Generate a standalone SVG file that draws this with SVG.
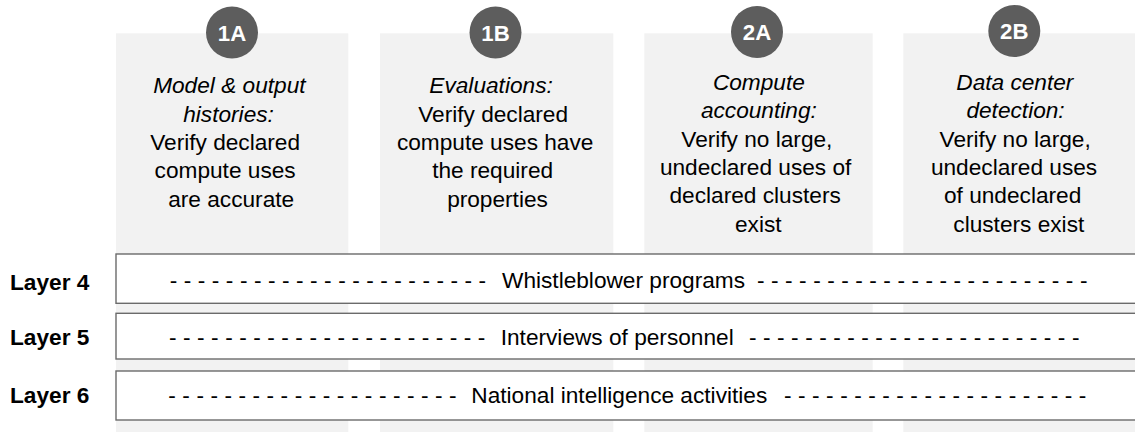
<svg xmlns="http://www.w3.org/2000/svg" width="1135" height="432" viewBox="0 0 1135 432">
  <style>
    .col { fill: #f2f2f2; }
    .badge { fill: #5d5d5d; }
    .badge-t { font-family: "Liberation Sans", Arial, sans-serif; font-weight: bold; font-size: 22.2px; fill: #ffffff; text-anchor: middle; }
    .body { font-family: "Liberation Sans", Arial, sans-serif; font-size: 22.67px; fill: #000000; text-anchor: middle; }
    .it { font-style: italic; }
    .row { fill: #ffffff; stroke: #6b6b6b; stroke-width: 1.4; }
    .lay { font-family: "Liberation Sans", Arial, sans-serif; font-weight: bold; font-size: 22.67px; fill: #000000; }
    .rt { font-family: "Liberation Sans", Arial, sans-serif; font-size: 22.67px; fill: #000000; }
    .dash { letter-spacing: 0.1px; }
  </style>
  <rect x="0" y="0" width="1135" height="432" fill="#ffffff"/>

  <g id="node-1A">
    <rect class="col" x="116" y="33.3" width="232.3" height="400"/>
    <circle class="badge" cx="232" cy="32.5" r="26"/>
    <text class="badge-t" x="232" y="40.6">1A</text>
    <text class="body">
      <tspan class="it" x="232.5" y="93.3">Model &amp; output</tspan>
      <tspan class="it" x="231.7" y="121.7">histories:</tspan>
      <tspan x="228.3" y="150">Verify declared</tspan>
      <tspan x="228.3" y="178.3">compute uses</tspan>
      <tspan x="231.2" y="206.7">are accurate</tspan>
    </text>
  </g>

  <g id="node-1B">
    <rect class="col" x="380" y="33.3" width="233.3" height="400"/>
    <circle class="badge" cx="495.5" cy="32.5" r="26"/>
    <text class="badge-t" x="495.5" y="40.6">1B</text>
    <text class="body">
      <tspan class="it" x="494.2" y="93.3">Evaluations:</tspan>
      <tspan x="496.3" y="121.7">Verify declared</tspan>
      <tspan x="498.3" y="150">compute uses have</tspan>
      <tspan x="495.8" y="178.3">the required</tspan>
      <tspan x="497.5" y="206.7">properties</tspan>
    </text>
  </g>

  <g id="node-2A">
    <rect class="col" x="644.3" y="33.3" width="228.4" height="400"/>
    <circle class="badge" cx="757" cy="32" r="26"/>
    <text class="badge-t" x="757" y="40">2A</text>
    <text class="body">
      <tspan class="it" x="762" y="90">Compute</tspan>
      <tspan class="it" x="762" y="118.3">accounting:</tspan>
      <tspan x="760" y="146.7">Verify no large,</tspan>
      <tspan x="758.8" y="175">undeclared uses of</tspan>
      <tspan x="758.3" y="203.3">declared clusters</tspan>
      <tspan x="758.3" y="231.7">exist</tspan>
    </text>
  </g>

  <g id="node-2B">
    <rect class="col" x="903.3" y="33.3" width="240" height="400"/>
    <circle class="badge" cx="1014.3" cy="31" r="26"/>
    <text class="badge-t" x="1014.3" y="39">2B</text>
    <text class="body">
      <tspan class="it" x="1018" y="90">Data center</tspan>
      <tspan class="it" x="1018.7" y="118.3">detection:</tspan>
      <tspan x="1018.3" y="146.7">Verify no large,</tspan>
      <tspan x="1017.2" y="175">undeclared uses</tspan>
      <tspan x="1015.8" y="203.3">of undeclared</tspan>
      <tspan x="1018.8" y="231.7">clusters exist</tspan>
    </text>
  </g>

  <g id="connectors"></g>

  <g id="layer-4">
    <text class="lay" x="10" y="289.5">Layer 4</text>
    <rect class="row" x="116" y="254" width="1030" height="49.3"/>
    <text class="rt dash" x="169.7" y="288.3">- - - - - - - - - - - - - - - - - - - - - - -</text>
    <text class="rt" x="502" y="288.3">Whistleblower programs</text>
    <text class="rt dash" x="757" y="288.3">- - - - - - - - - - - - - - - - - - - - - - - -</text>
  </g>

  <g id="layer-5">
    <text class="lay" x="10" y="344.5">Layer 5</text>
    <rect class="row" x="116" y="313.3" width="1030" height="45.7"/>
    <text class="rt dash" x="169" y="345">- - - - - - - - - - - - - - - - - - - - - - -</text>
    <text class="rt" x="500.7" y="345">Interviews of personnel</text>
    <text class="rt dash" x="749" y="345">- - - - - - - - - - - - - - - - - - - - - - - -</text>
  </g>

  <g id="layer-6">
    <text class="lay" x="10" y="403">Layer 6</text>
    <rect class="row" x="116" y="371" width="1030" height="49"/>
    <text class="rt dash" x="168.3" y="403.3">- - - - - - - - - - - - - - - - - - - - -</text>
    <text class="rt" x="471.3" y="403.3">National intelligence activities</text>
    <text class="rt dash" x="784" y="403.3">- - - - - - - - - - - - - - - - - - - - - -</text>
  </g>
</svg>
